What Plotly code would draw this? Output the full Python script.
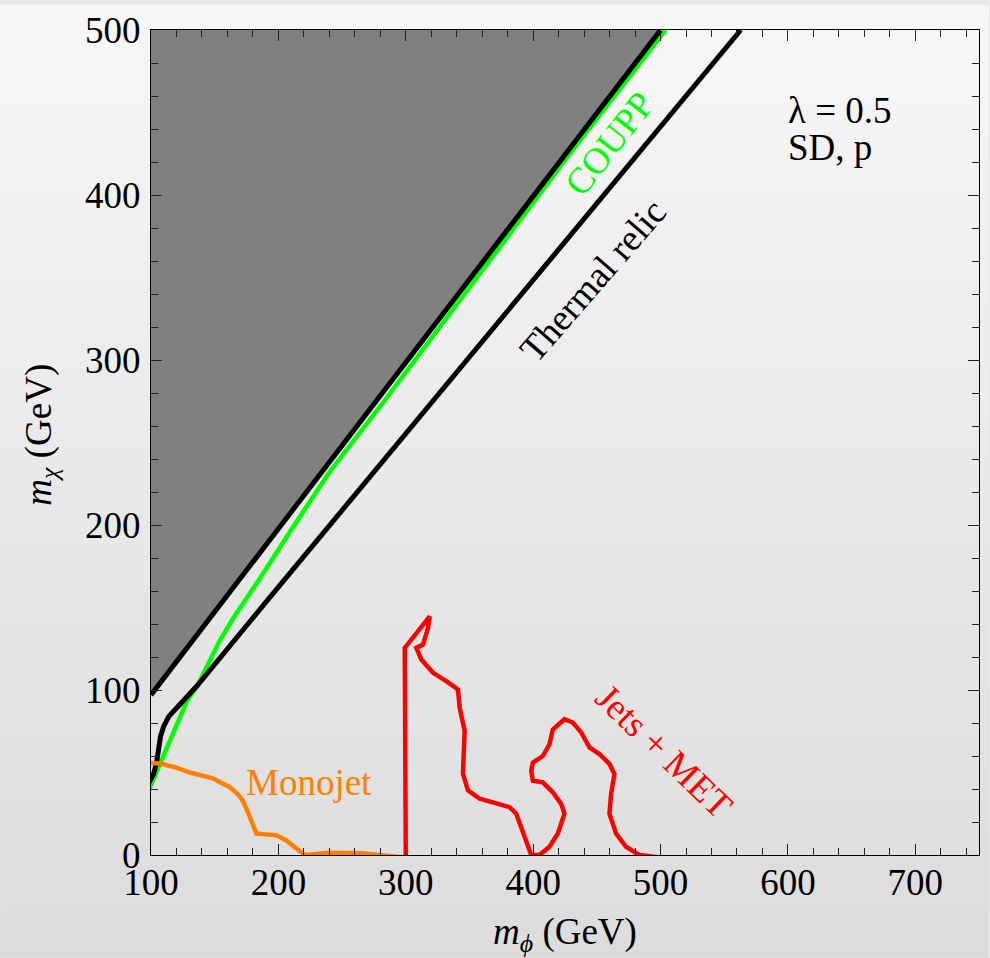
import plotly.graph_objects as go

# ---------------- data ----------------
# kinematic boundary (m_chi = m_phi), upper edge of grey excluded region
kin_x = [100, 500]
kin_y = [97, 500]
# grey excluded region polygon
excl_x = [100, 500, 100]
excl_y = [97, 500, 500]

# COUPP (green)
coupp_x = [97, 107, 120, 128, 136, 144, 154, 164.5, 185.5, 209, 240, 282, 349, 428.5, 504]
coupp_y = [37, 55, 78, 93, 102, 115, 130, 143.5, 167.6, 195.8, 232, 274, 343, 424.7, 500]

# Thermal relic (black)
relic_x = [97, 102, 104.4, 106, 107.5, 110, 114, 123, 136, 191, 289, 436, 563]
relic_y = [42, 49, 56, 65, 72, 78, 84, 91.5, 102.4, 154, 245, 381.5, 500]

# Monojet (orange)
mono_x = [97, 107, 120, 130.6, 148.6, 162, 168, 172, 175, 177.6, 182.8, 190, 198.4, 206,
          214, 220.7, 240, 266, 293, 307]
mono_y = [56, 55.4, 53, 50, 46.4, 41, 37, 33, 28, 23, 13, 12.5, 12, 9, 4, 0, 1.3, 1, -1, -2]

# Jets + MET (red)
jets_x = [300, 299.2, 318.8, 317.4, 313.5, 308.3, 312.2, 321.4, 331.8, 341, 342.3, 346.2,
          344.9, 348.8, 358, 369.7, 381.5, 386.7, 393.2, 398.5, 405, 412.8, 419.4, 424.6,
          422, 415.4, 407.6, 399.8, 398.5, 399.8, 407.6, 412.8, 415.4, 424.6, 431.1, 437.7,
          444.2, 452, 459.9, 463.8, 461.2, 459.9, 465.1, 472.9, 483.3, 505]
jets_y = [-1, 125.5, 144.6, 137.5, 127.5, 125.5, 118.5, 110.4, 105.4, 100.3, 89.3, 75.3,
          49.2, 39.2, 34.1, 31.5, 29, 25, 11, 0, 0, 5, 13, 25,
          31, 38, 44, 45, 51, 56, 60, 67, 76, 82.3, 80.3, 74.3,
          65.2, 61.2, 55.2, 49.1, 37.1, 25, 13, 5, 0, -2]

x_ticks = [100, 200, 300, 400, 500, 600, 700]
y_ticks = [0, 100, 200, 300, 400, 500]

FONT = "Liberation Serif, Times New Roman, serif"

fig = go.Figure()

fig.add_trace(go.Scatter(x=excl_x, y=excl_y, fill="toself", fillcolor="#808080",
                         mode="lines", line=dict(width=0), hoverinfo="skip"))
fig.add_trace(go.Scatter(x=coupp_x, y=coupp_y, mode="lines",
                         line=dict(color="#00ff00", width=4.5)))
fig.add_trace(go.Scatter(x=kin_x, y=kin_y, mode="lines",
                         line=dict(color="black", width=5)))
fig.add_trace(go.Scatter(x=relic_x, y=relic_y, mode="lines",
                         line=dict(color="black", width=5)))
fig.add_trace(go.Scatter(x=mono_x, y=mono_y, mode="lines",
                         line=dict(color="#ff8000", width=4.5)))
fig.add_trace(go.Scatter(x=jets_x, y=jets_y, mode="lines",
                         line=dict(color="#ff0000", width=4.5)))

# background vertical gradient (whole page)
W, H = 990, 958
L, R, T, B = 151, 10, 25, 103
pw, ph = W - L - R, H - T - B
shapes = []
n = 60
for i in range(n):
    Y0 = H * i / n
    Y1 = H * (i + 1) / n
    c = int(round(247 - 27 * (Y0 + Y1) / 2 / H))
    shapes.append(dict(type="rect", xref="paper", yref="paper",
                       x0=(0 - L) / pw, x1=(W - L) / pw,
                       y0=(H - B - Y1) / ph - 0.0005, y1=(H - B - Y0) / ph + 0.0005,
                       fillcolor=f"rgb({c},{c},{c})", line=dict(width=0), layer="below"))

axis_common = dict(showgrid=False, zeroline=False, showline=True, linecolor="black",
                   linewidth=1, mirror="allticks", ticks="inside", ticklen=11,
                   tickcolor="#222", tickwidth=1,
                   tickfont=dict(family=FONT, size=37, color="black"),
                   minor=dict(ticks="inside", ticklen=7, tickcolor="#222", dtick=20))

fig.update_xaxes(range=[100, 750], tickvals=x_ticks, ticktext=[str(v) for v in x_ticks],
                 ticklabelstandoff=-5, **axis_common)
fig.update_yaxes(range=[0, 500], tickvals=y_ticks, ticktext=[str(v) for v in y_ticks],
                 ticklabelstandoff=2, **axis_common)

ann = []
ann.append(dict(xref="paper", yref="paper", x=(566 - L) / pw, y=(H - B - 935) / ph,
                text="<i>m</i><sub><i>ϕ</i></sub> (GeV)", showarrow=False,
                xanchor="center", yanchor="middle", font=dict(family=FONT, size=37, color="black")))
ann.append(dict(xref="paper", yref="paper", x=(41 - L) / pw, y=(H - B - 432) / ph,
                text="<i>m</i><sub><i>χ</i></sub> (GeV)", showarrow=False, textangle=-90,
                xanchor="center", yanchor="middle", font=dict(family=FONT, size=37, color="black")))
ann.append(dict(xref="paper", yref="paper", x=(787 - L) / pw, y=(H - B - 106) / ph,
                text="λ = 0.5", showarrow=False, xanchor="left", yanchor="middle",
                font=dict(family=FONT, size=37, color="black")))
ann.append(dict(xref="paper", yref="paper", x=(787 - L) / pw, y=(H - B - 143) / ph,
                text="SD, p", showarrow=False, xanchor="left", yanchor="middle",
                font=dict(family=FONT, size=37, color="black")))
ann.append(dict(x=224, y=44, text="Monojet", showarrow=False, xanchor="center", yanchor="middle",
                font=dict(family=FONT, size=37, color="#ff8000")))
ann.append(dict(x=460, y=431, text="COUPP", showarrow=False, textangle=-52,
                xanchor="center", yanchor="middle", font=dict(family=FONT, size=37, color="#00ff00")))
ann.append(dict(x=447, y=348, text="Thermal relic", showarrow=False, textangle=-49,
                xanchor="center", yanchor="middle", font=dict(family=FONT, size=37, color="black")))
ann.append(dict(x=503, y=63, text="Jets + MET", showarrow=False, textangle=44,
                xanchor="center", yanchor="middle", font=dict(family=FONT, size=37, color="#ff0000")))

fig.update_layout(width=W, height=H, margin=dict(l=L, r=R, t=T, b=B),
                  paper_bgcolor="#e8e8e8", plot_bgcolor="rgba(0,0,0,0)",
                  showlegend=False, shapes=shapes, annotations=ann,
                  font=dict(family=FONT))

fig.write_html("out.html")
